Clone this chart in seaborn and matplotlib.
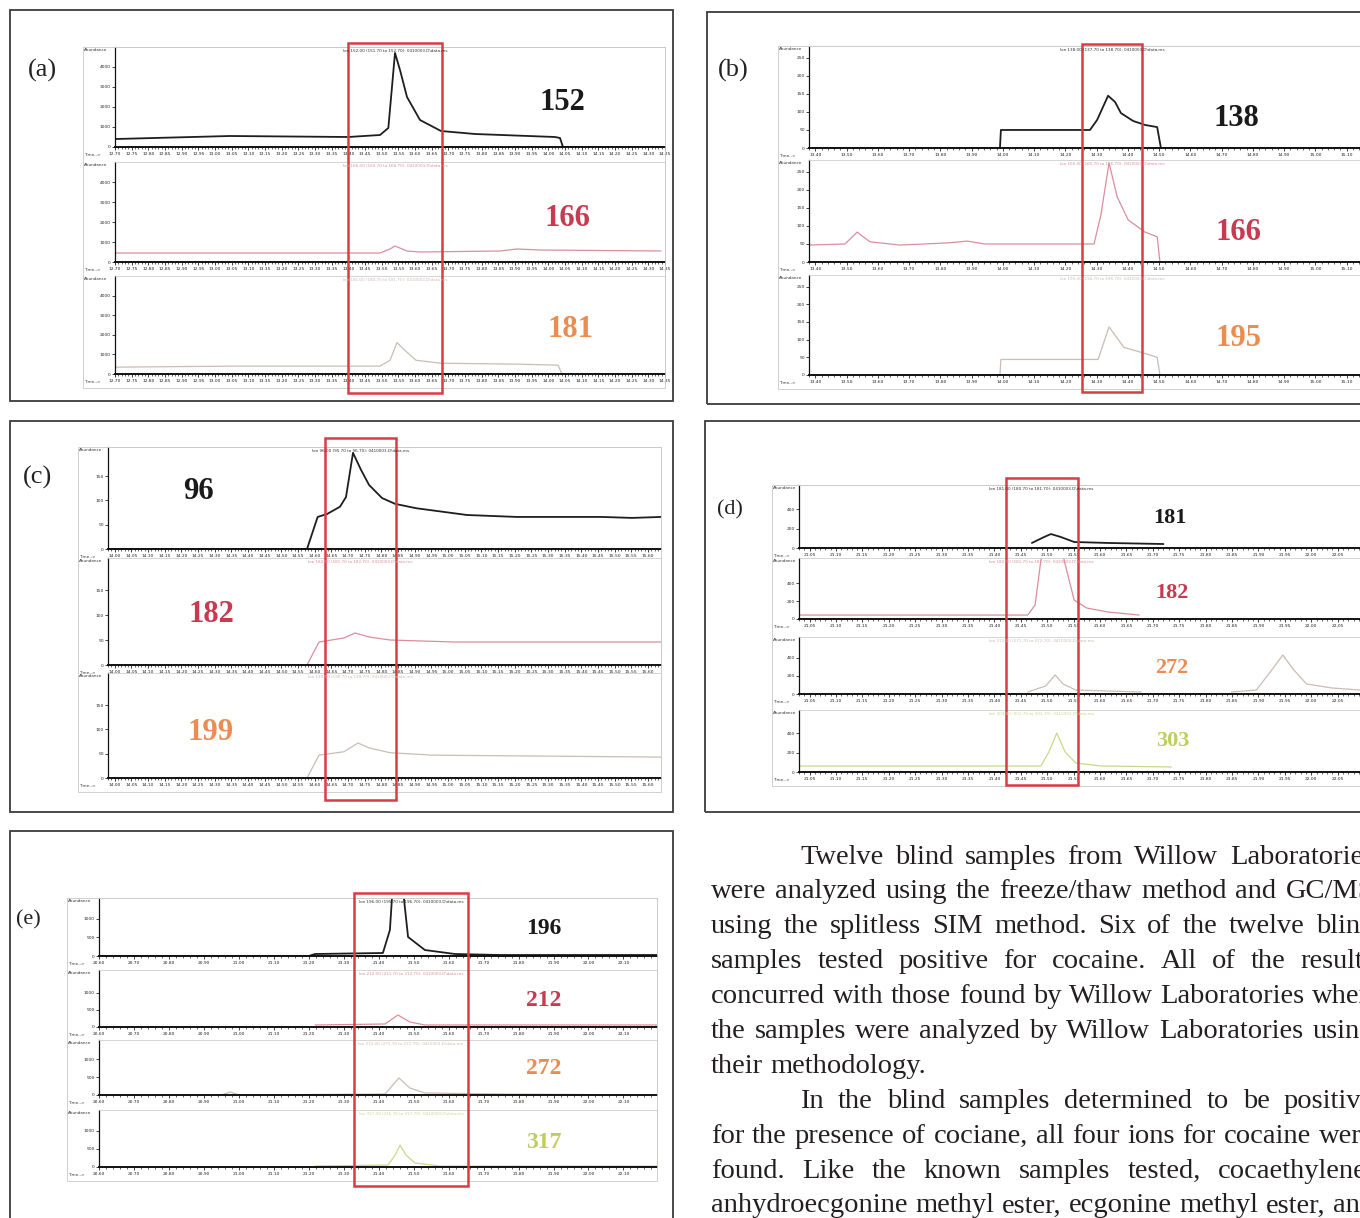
import numpy as np
import pandas as pd
import seaborn as sns
import matplotlib.pyplot as plt
from matplotlib.patches import Rectangle
from matplotlib.ticker import MultipleLocator, FormatStrFormatter

W, H = 1360, 1218

# ---- extracted ion chromatograms: retention time (min) / abundance ----
# (a)
a_t152 = [12.703, 13.045, 13.40, 13.495, 13.52, 13.54, 13.555, 13.576, 13.615, 13.678, 13.78, 14.02, 14.035, 14.044, 14.35]
a_y152 = [400, 550, 500, 600, 950, 4700, 3850, 2500, 1350, 800, 650, 500, 450, 0, 0]
a_t166 = [12.703, 13.495, 13.525, 13.54, 13.576, 13.615, 13.855, 13.906, 13.975, 14.338]
a_y166 = [450, 450, 650, 800, 550, 500, 550, 650, 600, 550]
a_t181 = [12.703, 13.045, 13.495, 13.525, 13.546, 13.57, 13.603, 13.678, 13.915, 14.029, 14.041, 14.35]
a_y181 = [350, 400, 400, 700, 1600, 1200, 700, 550, 500, 450, 0, 0]
# (b)
b_t138 = [13.38, 13.991, 13.994, 14.279, 14.302, 14.337, 14.359, 14.378, 14.417, 14.455, 14.494, 14.506, 15.27]
b_y138 = [0, 0, 50, 50, 78, 145, 128, 97, 75, 64, 58, 0, 0]
b_t166 = [13.38, 13.495, 13.534, 13.575, 13.671, 13.825, 13.886, 13.943, 14.292, 14.314, 14.34, 14.366, 14.401, 14.455, 14.494, 14.503, 15.27]
b_y166 = [47, 50, 83, 56, 47, 53, 58, 50, 50, 131, 275, 181, 117, 83, 70, 0, 0]
b_t195 = [13.38, 13.991, 13.994, 14.305, 14.34, 14.388, 14.455, 14.494, 14.503, 15.27]
b_y195 = [0, 0, 44, 44, 136, 78, 61, 50, 0, 0]
# (c)
c_t96 = [13.98, 14.577, 14.609, 14.637, 14.676, 14.694, 14.715, 14.739, 14.763, 14.802, 14.841, 14.904, 15.057, 15.207, 15.462, 15.552, 15.639]
c_y96 = [0, 0, 66, 72, 87, 107, 198, 163, 132, 105, 93, 84, 70, 66, 66, 64, 66]
c_t182 = [13.98, 14.577, 14.613, 14.688, 14.721, 14.763, 14.826, 15.018, 15.639]
c_y182 = [0, 0, 46, 54, 64, 56, 50, 46, 46]
c_t199 = [13.98, 14.577, 14.613, 14.688, 14.73, 14.763, 14.826, 14.955, 15.639]
c_y199 = [0, 0, 47, 54, 72, 62, 52, 47, 43]
# (d)
d_t181 = [21.471, 21.494, 21.507, 21.526, 21.551, 21.615, 21.72]
d_y181 = [52, 113, 144, 113, 62, 52, 41]
d_t182 = [21.03, 21.463, 21.477, 21.488, 21.497, 21.52, 21.532, 21.551, 21.575, 21.615, 21.674]
d_y182 = [44, 44, 155, 655, 1100, 1100, 655, 211, 122, 78, 44]
d_t272 = [21.463, 21.497, 21.515, 21.53, 21.554, 21.678]
d_y272 = [22, 89, 211, 111, 44, 22]
d_t272_late = [21.849, 21.896, 21.925, 21.946, 21.967, 21.991, 22.039, 22.092]
d_y272_late = [22, 44, 266, 433, 266, 111, 67, 44]
d_t303 = [21.03, 21.488, 21.503, 21.518, 21.534, 21.554, 21.602, 21.735]
d_y303 = [62, 62, 206, 402, 206, 93, 62, 52]
# (e)
e_t196 = [20.60, 21.20, 21.218, 21.412, 21.432, 21.441, 21.467, 21.484, 21.532, 21.618, 21.747, 22.196]
e_y196 = [0, 0, 54, 81, 700, 2000, 2000, 513, 162, 54, 27, 27]
e_t212 = [21.218, 21.418, 21.455, 21.489, 21.532, 22.196]
e_y212 = [59, 88, 353, 147, 59, 59]
e_t272 = [20.60, 20.95, 20.975, 21.00, 21.418, 21.458, 21.489, 21.532, 21.747, 22.196]
e_y272 = [0, 0, 84, 0, 28, 476, 196, 56, 28, 0]
e_t317 = [21.218, 21.427, 21.447, 21.461, 21.478, 21.504, 21.575, 22.196]
e_y317 = [27, 55, 330, 605, 330, 110, 27, 27]

# ions monitored and retention-time window highlighted in red
ions_a, ions_b, ions_c = ["152", "166", "181"], ["138", "166", "195"], ["96", "182", "199"]
ions_d, ions_e = ["181", "182", "272", "303"], ["196", "212", "272", "317"]
window_a, window_b, window_c = [13.40, 13.68], [14.254, 14.446], [14.631, 14.844]
window_d, window_e = [21.421, 21.558], [21.329, 21.655]

para_lines = [
    "Twelve blind samples from Willow Laboratories",
    "were analyzed using the freeze/thaw method and GC/MS",
    "using the splitless SIM method. Six of the twelve blind",
    "samples tested positive for cocaine. All of the results",
    "concurred with those found by Willow Laboratories when",
    "the samples were analyzed by Willow Laboratories using",
    "their methodology.",
    "In the blind samples determined to be positive",
    "for the presence of cociane, all four ions for cocaine were",
    "found. Like the known samples tested, cocaethylene,",
    "anhydroecgonine methyl ester, ecgonine methyl ester, and",
]
para_indent = [True, False, False, False, False, False, False, True, False, False, False]
para_justify = [True, True, True, True, True, True, False, True, True, True, True]

sns.set_style("white")
plt.rcParams["font.family"] = ["DejaVu Sans"]

TRACE = ["#1e1e1e", "#d98f9a", "#cbbcb4", "#cbd68c"]
LABEL = ["#1a1a1a", "#c73a50", "#ec8c50", "#bfcd5c"]
RED = "#dc3b45"
SERIF = "Liberation Serif"

fig = plt.figure(figsize=(W / 100, H / 100), dpi=100)


def fx(x):
    return x / W


def fy(y):
    return 1 - y / H


def rect(x0, y0, x1, y1, color, lw):
    fig.patches.append(Rectangle((fx(x0), fy(y1)), (x1 - x0) / W, (y1 - y0) / H,
                                 transform=fig.transFigure, fill=False,
                                 edgecolor=color, linewidth=lw))


panels = [
    dict(tag="(a)", frame=(10, 10, 673, 401), tag_xy=(42, 70), tag_fs=19,
         outer=83, left=115, right=665, rows=[(47, 147), (162, 262), (276, 374)],
         xlim=(12.70, 14.35), xstep=0.05, ylims=[5000, 5000, 5000],
         yticks=[0, 1000, 2000, 3000, 4000], edge="#cfcfcf",
         data=[[(a_t152, a_y152)], [(a_t166, a_y166)], [(a_t181, a_y181)]],
         ions=ions_a, ion_xy=[(562, 103), (567, 218), (570, 329)], ion_fs=22,
         window=window_a, box_y=(43, 393)),
    dict(tag="(b)", frame=(707, 12, 1372, 404), tag_xy=(733, 70), tag_fs=19,
         outer=778, left=809, right=1360, rows=[(46, 148), (160, 262), (275, 375)],
         xlim=(13.38, 15.143), xstep=0.10, ylims=[283, 283, 283],
         yticks=[0, 50, 100, 150, 200, 250], edge="#cfcfcf",
         data=[[(b_t138, b_y138)], [(b_t166, b_y166)], [(b_t195, b_y195)]],
         ions=ions_b, ion_xy=[(1236, 119), (1238, 233), (1238, 339)], ion_fs=22,
         window=window_b, box_y=(44, 392)),
    dict(tag="(c)", frame=(10, 421, 673, 812), tag_xy=(38, 477), tag_fs=19,
         outer=78, left=108, right=661, rows=[(447, 549), (558, 665), (673, 778)],
         xlim=(13.98, 15.639), xstep=0.05, ylims=[210, 214, 216],
         yticks=[0, 50, 100, 150], edge="#cfcfcf",
         data=[[(c_t96, c_y96)], [(c_t182, c_y182)], [(c_t199, c_y199)]],
         ions=ions_c, ion_xy=[(198, 492), (211, 615), (211, 733)], ion_fs=22,
         window=window_c, box_y=(438, 800)),
    dict(tag="(d)", frame=(705, 421, 1372, 812), tag_xy=(730, 510), tag_fs=16,
         outer=772, left=799, right=1362, rows=[(485, 548), (558, 619), (637, 694), (710, 772)],
         xlim=(21.03, 22.096), xstep=0.05, ylims=[650, 680, 633, 640],
         yticks=[0, 200, 400], edge="#cfcfcf",
         data=[[(d_t181, d_y181)], [(d_t182, d_y182)],
               [(d_t272, d_y272), (d_t272_late, d_y272_late)], [(d_t303, d_y303)]],
         ions=ions_d, ion_xy=[(1170, 518), (1172, 593), (1172, 668), (1173, 741)], ion_fs=16,
         window=window_d, box_y=(478, 785)),
    dict(tag="(e)", frame=(10, 831, 673, 1228), tag_xy=(28, 920), tag_fs=16,
         outer=67, left=99, right=657, rows=[(898, 956), (970, 1027), (1040, 1095), (1110, 1167)],
         xlim=(20.60, 22.196), xstep=0.10, ylims=[1566, 1676, 1540, 1570],
         yticks=[0, 500, 1000], edge="#b9dcb2",
         data=[[(e_t196, e_y196)], [(e_t212, e_y212)], [(e_t272, e_y272)], [(e_t317, e_y317)]],
         ions=ions_e, ion_xy=[(544, 928), (544, 1000), (544, 1068), (544, 1143)], ion_fs=17,
         window=window_e, box_y=(893, 1186)),
]

for p in panels:
    rect(*p["frame"], "#3c3c3c", 1.3)
    fig.text(fx(p["tag_xy"][0]), fy(p["tag_xy"][1]), p["tag"], fontsize=p["tag_fs"],
             family=SERIF, ha="center", va="center", color="#222222")
    rows = p["rows"]
    rect(p["outer"], rows[0][0], p["right"], rows[-1][1] + 14, "#c8c8c8", 0.6)
    win_px = None
    for i, ((top, bottom), segs) in enumerate(zip(rows, p["data"])):
        ax = fig.add_axes([fx(p["left"]), fy(bottom), (p["right"] - p["left"]) / W, (bottom - top) / H])
        col = TRACE[i]
        for t, y in segs:
            sns.lineplot(x=t, y=y, ax=ax, color=col, linewidth=1.3 if i == 0 else 0.9,
                         estimator=None, sort=False)
        ax.set_xlim(p["xlim"])
        ax.set_ylim(0, p["ylims"][i])
        ax.set_xlabel("")
        ax.set_ylabel("")
        ax.set_yticks(p["yticks"])
        ax.xaxis.set_major_locator(MultipleLocator(p["xstep"]))
        ax.xaxis.set_minor_locator(MultipleLocator(p["xstep"] / 5))
        ax.xaxis.set_major_formatter(FormatStrFormatter("%.2f"))
        ax.tick_params(axis="x", which="major", length=2.5, width=0.6, labelsize=3.2,
                       pad=1.2, colors="#222222", bottom=True)
        ax.tick_params(axis="x", which="minor", length=1.6, width=0.5, bottom=True)
        ax.tick_params(axis="y", length=2, width=0.6, labelsize=3.2, pad=1, left=True)
        ax.patch.set_alpha(0)
        ax.spines["top"].set_color("#cfcfcf")
        ax.spines["right"].set_color(p["edge"])
        for s in ["top", "right"]:
            ax.spines[s].set_linewidth(0.6)
        ax.spines["bottom"].set_linewidth(1.4)
        ax.spines["bottom"].set_color("#111111")
        ax.spines["left"].set_linewidth(0.9)
        ax.spines["left"].set_color("#111111")
        if win_px is None:
            to_px = ax.transData + fig.transFigure.inverted()
            win_px = [to_px.transform((t, 0))[0] * W for t in p["window"]]
        fig.text(fx(p["outer"] + 1), fy(top + 3), "Abundance", fontsize=3, va="center", color="#333333")
        fig.text(fx(p["outer"] + 1), fy(bottom + 8), "Time-->", fontsize=3, va="center", color="#333333")
        fig.text(fx(sum(win_px) / 2), fy(top + 4),
                 "Ion %s.00 (%.2f to %.2f): 0410003.D\\data.ms" % (p["ions"][i], int(p["ions"][i]) - 0.3, int(p["ions"][i]) + 0.7),
                 fontsize=3, ha="center", va="center", color=col if i else "#333333")
        fig.text(fx(p["ion_xy"][i][0]), fy(p["ion_xy"][i][1]), p["ions"][i], fontsize=p["ion_fs"],
                 family=SERIF, weight="bold", ha="center", va="center",
                 color=LABEL[min(i, 3)])
    rect(win_px[0], p["box_y"][0], win_px[1], p["box_y"][1], RED, 1.8)

# body text, justified like the printed column (runs past the right edge as in the scan)
renderer = fig.canvas.get_renderer()
body_fs = 20.5
left_px, right_px, indent_px = 711, 1374, 800
space_px = 0.25 * body_fs * 100 / 72
for i, line in enumerate(para_lines):
    words = line.split(" ")
    base = 863.5 + 34.9 * i
    items = [fig.text(0, fy(base), w, fontsize=body_fs, family=SERIF, color="#231f20", va="baseline")
             for w in words]
    widths = [it.get_window_extent(renderer).width for it in items]
    x = indent_px if para_indent[i] else left_px
    gap = (right_px - x - sum(widths)) / (len(words) - 1) if para_justify[i] else space_px
    for it, wd in zip(items, widths):
        it.set_x(fx(x))
        x += wd + gap

fig.savefig("out.png", dpi=100)
